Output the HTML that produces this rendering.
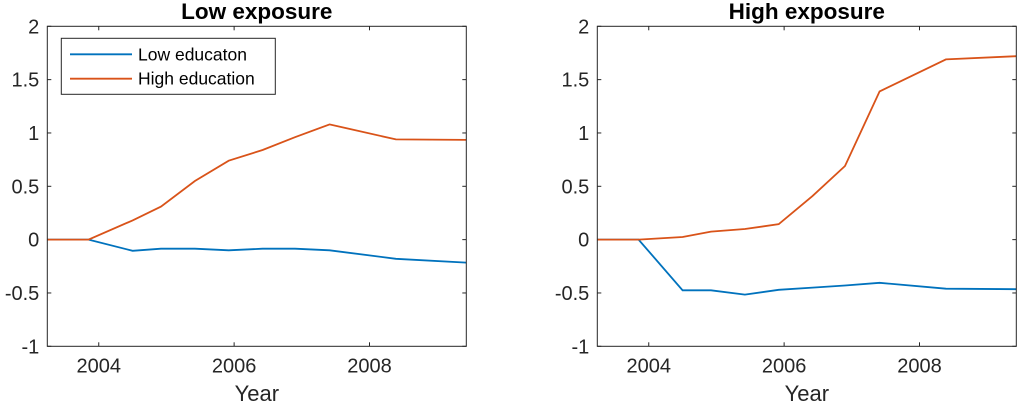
<!DOCTYPE html>
<html><head><meta charset="utf-8"><style>
body{margin:0;background:#fff}
svg{display:block;font-family:"Liberation Sans",Arial,sans-serif}
</style></head><body>
<svg id="chart" width="1019" height="406"></svg>
<script>
const years = [2003.24, 2003.85, 2004.5, 2004.92, 2005.42, 2005.92, 2006.42, 2006.9, 2007.41, 2008.39, 2009.43];
const lowExpLowEdu = [0, 0, -0.105, -0.085, -0.085, -0.10, -0.085, -0.085, -0.10, -0.18, -0.215];
const lowExpHighEdu = [0, 0, 0.18, 0.31, 0.55, 0.74, 0.84, 0.96, 1.08, 0.94, 0.935];
const highExpLowEdu = [0, 0, -0.475, -0.475, -0.515, -0.47, -0.45, -0.43, -0.405, -0.46, -0.465];
const highExpHighEdu = [0, 0, 0.025, 0.075, 0.10, 0.145, 0.41, 0.69, 1.39, 1.69, 1.72];
const xTicks = [2004, 2006, 2008];
const yTicks = [-1, -0.5, 0, 0.5, 1, 1.5, 2];
const yTickLabels = ["-1", "-0.5", "0", "0.5", "1", "1.5", "2"];
const seriesNames = ["Low educaton", "High education"];

const NS = "http://www.w3.org/2000/svg";
const svg = document.getElementById("chart");
function el(tag, attrs, parent) {
  const e = document.createElementNS(NS, tag);
  for (const k in attrs) e.setAttribute(k, attrs[k]);
  (parent || svg).appendChild(e);
  return e;
}
const BLUE = "#0072BD", ORANGE = "#D95319";
const xMin = 2003.24, xMax = 2009.43, yMin = -1, yMax = 2;

function panel(left, title, lowData, highData, withLegend, name) {
  const right = left + 419, top = 26.3, bottom = 346.3;
  const g = el("g", {});
  
  
  const sx = v => left + (v - xMin) / (xMax - xMin) * (right - left);
  const sy = v => bottom - (v - yMin) / (yMax - yMin) * (bottom - top);
  yTicks.forEach((t, i) => {
    const y = sy(t);
    el("line", {x1: left, x2: left + 4, y1: y, y2: y, stroke: "#262626", "stroke-width": 1}, g);
    el("line", {x1: right - 4, x2: right, y1: y, y2: y, stroke: "#262626", "stroke-width": 1}, g);
    const tx = el("text", {x: left - 8, y: y + 7, "text-anchor": "end", "font-size": 20, fill: "#262626"}, g);
    tx.textContent = yTickLabels[i];
    
    
  });
  xTicks.forEach(t => {
    const x = sx(t);
    el("line", {x1: x, x2: x, y1: bottom - 4, y2: bottom, stroke: "#262626", "stroke-width": 1}, g);
    el("line", {x1: x, x2: x, y1: top, y2: top + 4, stroke: "#262626", "stroke-width": 1}, g);
    const tx = el("text", {x: x, y: bottom + 26, "text-anchor": "middle", "font-size": 20, fill: "#262626"}, g);
    tx.textContent = String(t);
    
    
  });
  const pts = d => d.map((v, i) => sx(years[i]).toFixed(1) + "," + sy(v).toFixed(1)).join(" ");
  const l1 = el("polyline", {points: pts(lowData), fill: "none", stroke: BLUE, "stroke-width": 1.8}, g);
  
  
  const l2 = el("polyline", {points: pts(highData), fill: "none", stroke: ORANGE, "stroke-width": 1.8}, g);
  
  
  el("rect", {x: left, y: top, width: right - left, height: bottom - top, fill: "none", stroke: "#262626", "stroke-width": 1}, g);
  const tt = el("text", {x: (left + right) / 2, y: 19, "text-anchor": "middle", "font-size": 22.5, "font-weight": "bold", fill: "#000"}, g);
  tt.textContent = title;
  
  
  const xl = el("text", {x: (left + right) / 2, y: 401, "text-anchor": "middle", "font-size": 22, fill: "#262626"}, g);
  xl.textContent = "Year";
  
  
  if (withLegend) {
    const lg = el("g", {}, g);
    
    
    el("rect", {x: 61.3, y: 38.3, width: 214, height: 56, fill: "#fff", stroke: "#262626", "stroke-width": 1}, lg);
    [BLUE, ORANGE].forEach((c, i) => {
      const y = 54.3 + i * 24.4;
      el("line", {x1: 70, x2: 132, y1: y, y2: y, stroke: c, "stroke-width": 1.8}, lg);
      const t = el("text", {x: 138, y: y + 6, "font-size": 17.5, fill: "#000"}, lg);
      t.textContent = seriesNames[i];
      
      
    });
  }
}
panel(47.3, "Low exposure", lowExpLowEdu, lowExpHighEdu, true, "low-exposure-panel");
panel(597.3, "High exposure", highExpLowEdu, highExpHighEdu, false, "high-exposure-panel");
</script>
</body></html>
